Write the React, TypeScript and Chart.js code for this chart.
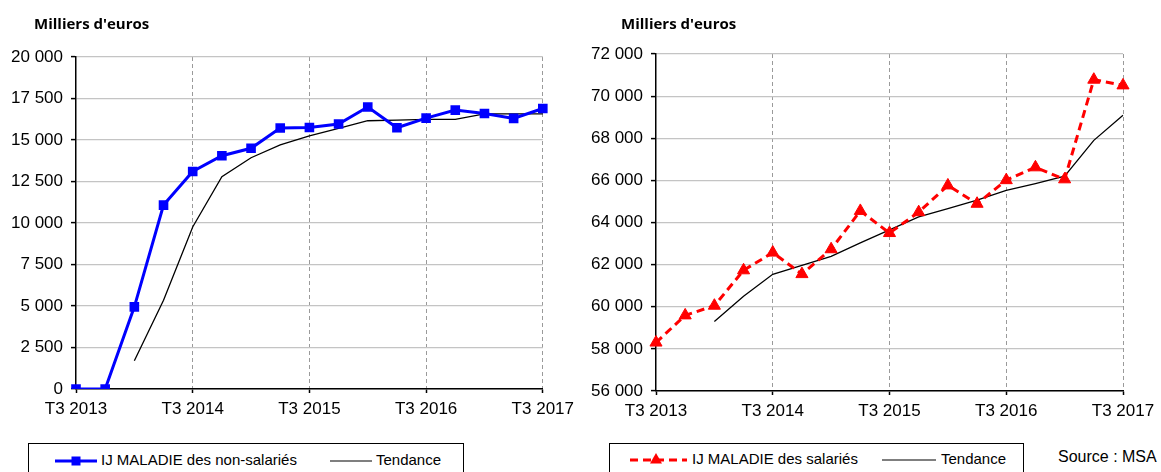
import React, { useEffect, useRef } from "react";
import { Chart, registerables } from "chart.js";

Chart.register(...registerables);

// ---------- Data ----------
const quarters = [
  "T3 2013", "T4 2013", "T1 2014", "T2 2014", "T3 2014", "T4 2014",
  "T1 2015", "T2 2015", "T3 2015", "T4 2015", "T1 2016", "T2 2016",
  "T3 2016", "T4 2016", "T1 2017", "T2 2017", "T3 2017",
];

const nonSalaries = [
  0, 0, 4950, 11080, 13100, 14050, 14500, 15720, 15750, 15960, 16990, 15740,
  16320, 16800, 16600, 16300, 16900,
];
const trendNonSalaries = [
  null, null, 1700, 5350, 9760, 12790, 13930, 14700, 15250, 15700, 16160, 16200,
  16240, 16240, 16570, 16570, 16570,
];

const salaries = [
  58300, 59590, 60050, 61730, 62570, 61550, 62730, 64550, 63500, 64490, 65760,
  64890, 66010, 66620, 66050, 70780, 70510,
];
const trendSalaries = [
  null, null, 59300, 60500, 61540, 61970, 62390, 63030, 63650, 64270, 64660,
  65060, 65530, 65850, 66200, 67900, 69090,
];

const leftAxis = { min: 0, max: 20000, step: 2500 };
const rightAxis = { min: 56000, max: 72000, step: 2000 };

const titleText = "Milliers d'euros";
const seriesLabelLeft = "IJ MALADIE des non-salariés";
const seriesLabelRight = "IJ MALADIE des salariés";
const trendLabel = "Tendance";
const sourceText = "Source : MSA";

// ---------- Helpers ----------
const FONT = '"Liberation Sans", Arial, sans-serif';
const TITLE_FONT = 'bold 15px "Open Sans", Lato, sans-serif';
const fmt = (v: number) =>
  String(Math.round(v)).replace(/\B(?=(\d{3})+(?!\d))/g, " ");

function buildConfig(opts: {
  datasets: any[];
  axis: { min: number; max: number; step: number };
  padTop: number;
  padRight: number;
  xHeight: number;
}): any {
  return {
    type: "line",
    data: { labels: quarters, datasets: opts.datasets },
    options: {
      responsive: false,
      animation: false,
      devicePixelRatio: 1,
      layout: { padding: { left: 0, right: opts.padRight, top: opts.padTop, bottom: 0 } },
      plugins: {
        legend: { display: false },
        tooltip: { enabled: false },
        title: { display: false },
      },
      scales: {
        x: {
          type: "category",
          offset: false,
          grid: {
            color: (c: any) =>
              c.index % 4 === 0 && c.index !== 0 ? "#9a9a9a" : "rgba(0,0,0,0)",
            lineWidth: 1,
            tickLength: 4,
            tickColor: (c: any) => (c.index % 4 === 0 ? "#000" : "rgba(0,0,0,0)"),
            tickWidth: 1.5,
          },
          border: { display: true, color: "#000", width: 1.5, dash: [4, 3] },
          ticks: {
            autoSkip: false,
            maxRotation: 0,
            minRotation: 0,
            padding: 6,
            color: "#000",
            font: { family: FONT, size: 17 },
            callback: (_v: any, i: number) => (i % 4 === 0 ? quarters[i] : ""),
          },
          afterFit: (a: any) => {
            a.height = opts.xHeight;
          },
        },
        y: {
          min: opts.axis.min,
          max: opts.axis.max,
          ticks: {
            stepSize: opts.axis.step,
            padding: 8,
            color: "#000",
            font: { family: FONT, size: 17 },
            callback: (v: any) => fmt(Number(v)),
          },
          grid: {
            color: "#c4c4c4",
            lineWidth: 1.2,
            tickLength: 5,
            tickColor: "#000",
            tickWidth: 1.5,
          },
          border: { display: true, color: "#000", width: 1.5 },
          afterFit: (a: any) => {
            a.width = 76;
          },
        },
      },
    },
  };
}

export default function App() {
  const leftRef = useRef<HTMLCanvasElement>(null);
  const rightRef = useRef<HTMLCanvasElement>(null);

  useEffect(() => {
    const left = new Chart(
      leftRef.current as HTMLCanvasElement,
      buildConfig({
        axis: leftAxis,
        padTop: 57,
        padRight: 36,
        xHeight: 31,
        datasets: [
          {
            label: seriesLabelLeft,
            data: nonSalaries,
            borderColor: "#0000ff",
            backgroundColor: "#0000ff",
            borderWidth: 3,
            pointStyle: "rect",
            pointRadius: 6.8,
            pointBorderWidth: 0,
            tension: 0,
          },
          {
            label: trendLabel,
            data: trendNonSalaries,
            borderColor: "#000",
            backgroundColor: "#000",
            borderWidth: 1.3,
            pointRadius: 0,
            tension: 0,
          },
        ],
      })
    );
    const right = new Chart(
      rightRef.current as HTMLCanvasElement,
      buildConfig({
        axis: rightAxis,
        padTop: 54,
        padRight: 38,
        xHeight: 29,
        datasets: [
          {
            label: seriesLabelRight,
            data: salaries,
            borderColor: "#ff0000",
            backgroundColor: "#ff0000",
            borderWidth: 3,
            borderDash: [8, 5],
            pointStyle: "triangle",
            pointRadius: 7,
            pointBorderWidth: 1,
            pointBorderColor: "#ff0000",
            tension: 0,
          },
          {
            label: trendLabel,
            data: trendSalaries,
            borderColor: "#000",
            backgroundColor: "#000",
            borderWidth: 1.3,
            pointRadius: 0,
            tension: 0,
          },
        ],
      })
    );
    return () => {
      left.destroy();
      right.destroy();
    };
  }, []);

  const abs = (s: any): any => ({ position: "absolute", ...s });
  const legendText = (left: number, top: number, text: string) => (
    <span
      style={abs({
        left,
        top,
        fontSize: 15,
        lineHeight: "18px",
        whiteSpace: "nowrap",
        color: "#000",
      })}
    >
      {text}
    </span>
  );

  return (
    <div
      style={abs({
        left: 0,
        top: 0,
        width: 1161,
        height: 472,
        overflow: "hidden",
        background: "#fff",
        fontFamily: FONT,
      })}
    >
      <canvas ref={leftRef} width={580} height={420} style={abs({ left: 0, top: 0 })} />
      <canvas ref={rightRef} width={581} height={420} style={abs({ left: 580, top: 0 })} />

      <div style={abs({ left: 34, top: 12, font: TITLE_FONT, lineHeight: "22px", whiteSpace: "nowrap" })}>
        {titleText}
      </div>
      <div style={abs({ left: 621, top: 12, font: TITLE_FONT, lineHeight: "22px", whiteSpace: "nowrap" })}>
        {titleText}
      </div>

      {/* Left legend */}
      <div style={abs({ left: 28, top: 443, width: 436, height: 40, border: "1px solid #000", boxSizing: "border-box" })} />
      <svg style={abs({ left: 50, top: 451, overflow: "visible" })} width={50} height={20}>
        <line x1={5} y1={10} x2={47} y2={10} stroke="#0000ff" strokeWidth={3} />
        <rect x={21.5} y={5.5} width={9} height={9} fill="#0000ff" />
      </svg>
      {legendText(101, 451, seriesLabelLeft)}
      <svg style={abs({ left: 325, top: 451, overflow: "visible" })} width={50} height={20}>
        <line x1={5} y1={10} x2={47} y2={10} stroke="#000" strokeWidth={1.2} />
      </svg>
      {legendText(376, 451, trendLabel)}

      {/* Right legend */}
      <div style={abs({ left: 609, top: 443, width: 415, height: 40, border: "1px solid #000", boxSizing: "border-box" })} />
      <svg style={abs({ left: 625, top: 450, overflow: "visible" })} width={66} height={20}>
        <line x1={5} y1={10} x2={62} y2={10} stroke="#ff0000" strokeWidth={3} strokeDasharray="8 5" />
        <polygon points="31,3 37,13.5 25,13.5" fill="#ff0000" />
      </svg>
      {legendText(692, 450, seriesLabelRight)}
      <svg style={abs({ left: 877, top: 450, overflow: "visible" })} width={62} height={20}>
        <line x1={5} y1={10} x2={59} y2={10} stroke="#000" strokeWidth={1.2} />
      </svg>
      {legendText(941, 450, trendLabel)}

      <span style={abs({ left: 1058, top: 447, fontSize: 16, lineHeight: "20px", whiteSpace: "nowrap" })}>
        {sourceText}
      </span>
    </div>
  );
}
